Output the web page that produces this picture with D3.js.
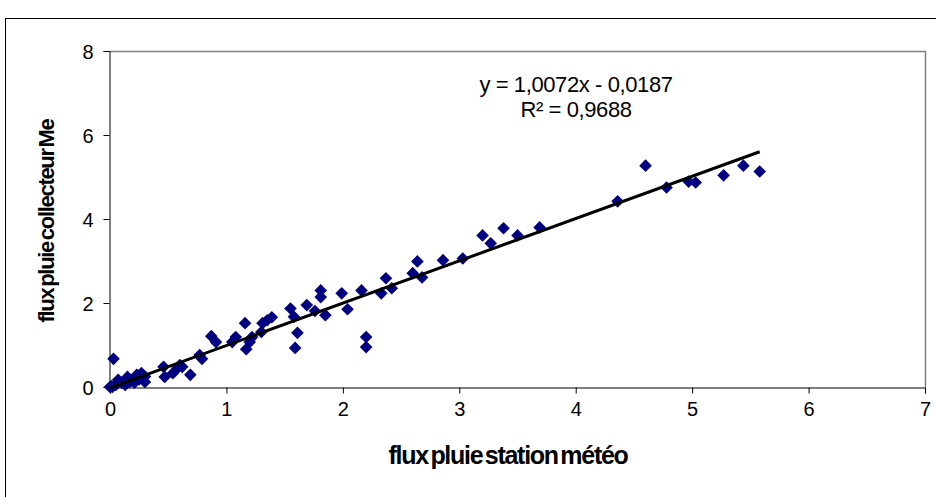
<!DOCTYPE html>
<html>
  <head>
    <meta charset="utf-8" />
    <script src="https://cdn.jsdelivr.net/npm/d3@7/dist/d3.min.js"></script>
    <style>
      body {
        margin: 0;
        background: white;
      }
      svg text {
        font-family: Arial, "Liberation Sans", sans-serif;
      }
    </style>
  </head>
  <body>
    <svg id="chart"></svg>
    <script type="text/javascript">
      "use strict";

      // station (x) vs collector (y) rain flux
      const stationFlux = [
        0, 0.01, 0.02, 0.03, 0.05, 0.07, 0.1, 0.13, 0.15, 0.17, 0.21, 0.23,
        0.25, 0.27, 0.3, 0.3, 0.46, 0.47, 0.54, 0.58, 0.6, 0.62, 0.69, 0.77,
        0.79, 0.87, 0.91, 1.05, 1.08, 1.16, 1.17, 1.2, 1.22, 1.3, 1.31, 1.35,
        1.39, 1.55, 1.58, 1.61, 1.59, 1.69, 1.76, 1.81, 1.81, 1.85, 1.99, 2.04,
        2.16, 2.2, 2.2, 2.33, 2.37, 2.42, 2.6, 2.64, 2.68, 2.86, 3.03, 3.2,
        3.27, 3.38, 3.5, 3.69, 4.36, 4.6, 4.78, 4.97, 5.03, 5.27, 5.44, 5.58
      ];
      const collectorFlux = [
        0, 0.02, 0, 0.67, 0.05, 0.17, 0.1, 0.05, 0.24, 0.12, 0.1, 0.29,
        0.18, 0.33, 0.12, 0.25, 0.48, 0.24, 0.33, 0.45, 0.52, 0.48, 0.29, 0.76,
        0.67, 1.21, 1.07, 1.07, 1.19, 1.52, 0.9, 1.07, 1.19, 1.31, 1.52, 1.59,
        1.66, 1.87, 1.67, 1.29, 0.93, 1.95, 1.81, 2.3, 2.14, 1.71, 2.23, 1.85,
        2.3, 1.19, 0.95, 2.23, 2.59, 2.35, 2.71, 2.99, 2.61, 3.02, 3.06, 3.61,
        3.42, 3.78, 3.61, 3.8, 4.42, 5.27, 4.75, 4.89, 4.87, 5.04, 5.27, 5.13
      ];

      const xTicks = [0, 1, 2, 3, 4, 5, 6, 7];
      const yTicks = [0, 2, 4, 6, 8];
      const slope = 1.0072,
        intercept = -0.0187;
      const equationLines = ["y = 1,0072x - 0,0187", "R\u00b2 = 0,9688"];

      const width = 936,
        height = 497;
      const plot = { left: 110, right: 925, top: 51, bottom: 387 };

      const svg = d3
        .select("#chart")
        .attr("width", width)
        .attr("height", height);

      // chart area frame (runs past the window on right and bottom)
      svg
        .append("rect")
        .attr("x", 5.5)
        .attr("y", 18.5)
        .attr("width", 960)
        .attr("height", 520)
        .style("fill", "white")
        .style("stroke", "black")
        .style("stroke-width", 1);

      const x = d3.scaleLinear().domain([0, 7]).range([plot.left, plot.right]);
      const y = d3.scaleLinear().domain([0, 8]).range([plot.bottom, plot.top]);

      // plot area border: top and right
      svg
        .append("path")
        .attr(
          "d",
          `M${plot.left},${plot.top + 0.5}H${plot.right + 0.5}V${plot.bottom}`
        )
        .style("fill", "none")
        .style("stroke", "#808080")
        .style("stroke-width", 1.5);

      const xAxis = svg
        .append("g")
        .attr("transform", `translate(0,${plot.bottom + 0.5})`)
        .call(
          d3
            .axisBottom(x)
            .tickValues(xTicks)
            .tickFormat(d3.format("d"))
            .tickSize(6)
            .tickPadding(8)
        );

      const yAxis = svg
        .append("g")
        .attr("transform", `translate(${plot.left - 0.5},0)`)
        .call(
          d3
            .axisLeft(y)
            .tickValues(yTicks)
            .tickFormat(d3.format("d"))
            .tickSize(6)
            .tickPadding(10)
        );

      [xAxis, yAxis].forEach(g => {
        g.select(".domain").style("stroke", "black");
        g.selectAll(".tick line").style("stroke", "black");
        g.selectAll(".tick text")
          .style("font-size", "20px")
          .style("fill", "black")
          .style("font-family", "Arial, 'Liberation Sans', sans-serif");
      });
      yAxis.selectAll(".tick text").attr("dy", "0.35em");

      const points = stationFlux.map((d, i) => ({
        x: d,
        y: collectorFlux[i]
      }));

      const diamond = d3.symbol().type(d3.symbolSquare).size(80);

      svg
        .append("g")
        .selectAll("path")
        .data(points)
        .enter()
        .append("path")
        .attr("d", diamond)
        .attr(
          "transform",
          d => `translate(${x(d.x)},${y(d.y)}) rotate(45)`
        )
        .style("fill", "#000080");

      // linear trend line over the range of the data
      const xMax = d3.max(stationFlux);
      svg
        .append("line")
        .attr("x1", x(0))
        .attr("y1", y(intercept))
        .attr("x2", x(xMax))
        .attr("y2", y(slope * xMax + intercept))
        .style("stroke", "black")
        .style("stroke-width", 3);

      svg
        .append("g")
        .selectAll("text")
        .data(equationLines)
        .enter()
        .append("text")
        .attr("x", 576)
        .attr("y", (d, i) => 92 + i * 25)
        .attr("text-anchor", "middle")
        .style("font-size", "22px")
        .style("letter-spacing", "-0.4px")
        .text(d => d);

      svg
        .append("text")
        .attr("x", 508)
        .attr("y", 464)
        .attr("text-anchor", "middle")
        .style("font-size", "25px")
        .style("font-weight", "bold")
        .style("letter-spacing", "-1.3px")
        .style("word-spacing", "-3px")
        .text("flux pluie station m\u00e9t\u00e9o");

      svg
        .append("text")
        .attr("transform", "translate(54,221) rotate(-90)")
        .attr("text-anchor", "middle")
        .style("font-size", "22px")
        .style("font-weight", "bold")
        .style("letter-spacing", "-1.3px")
        .style("word-spacing", "-3px")
        .text("flux pluie collecteur Me");
    </script>
  </body>
</html>
